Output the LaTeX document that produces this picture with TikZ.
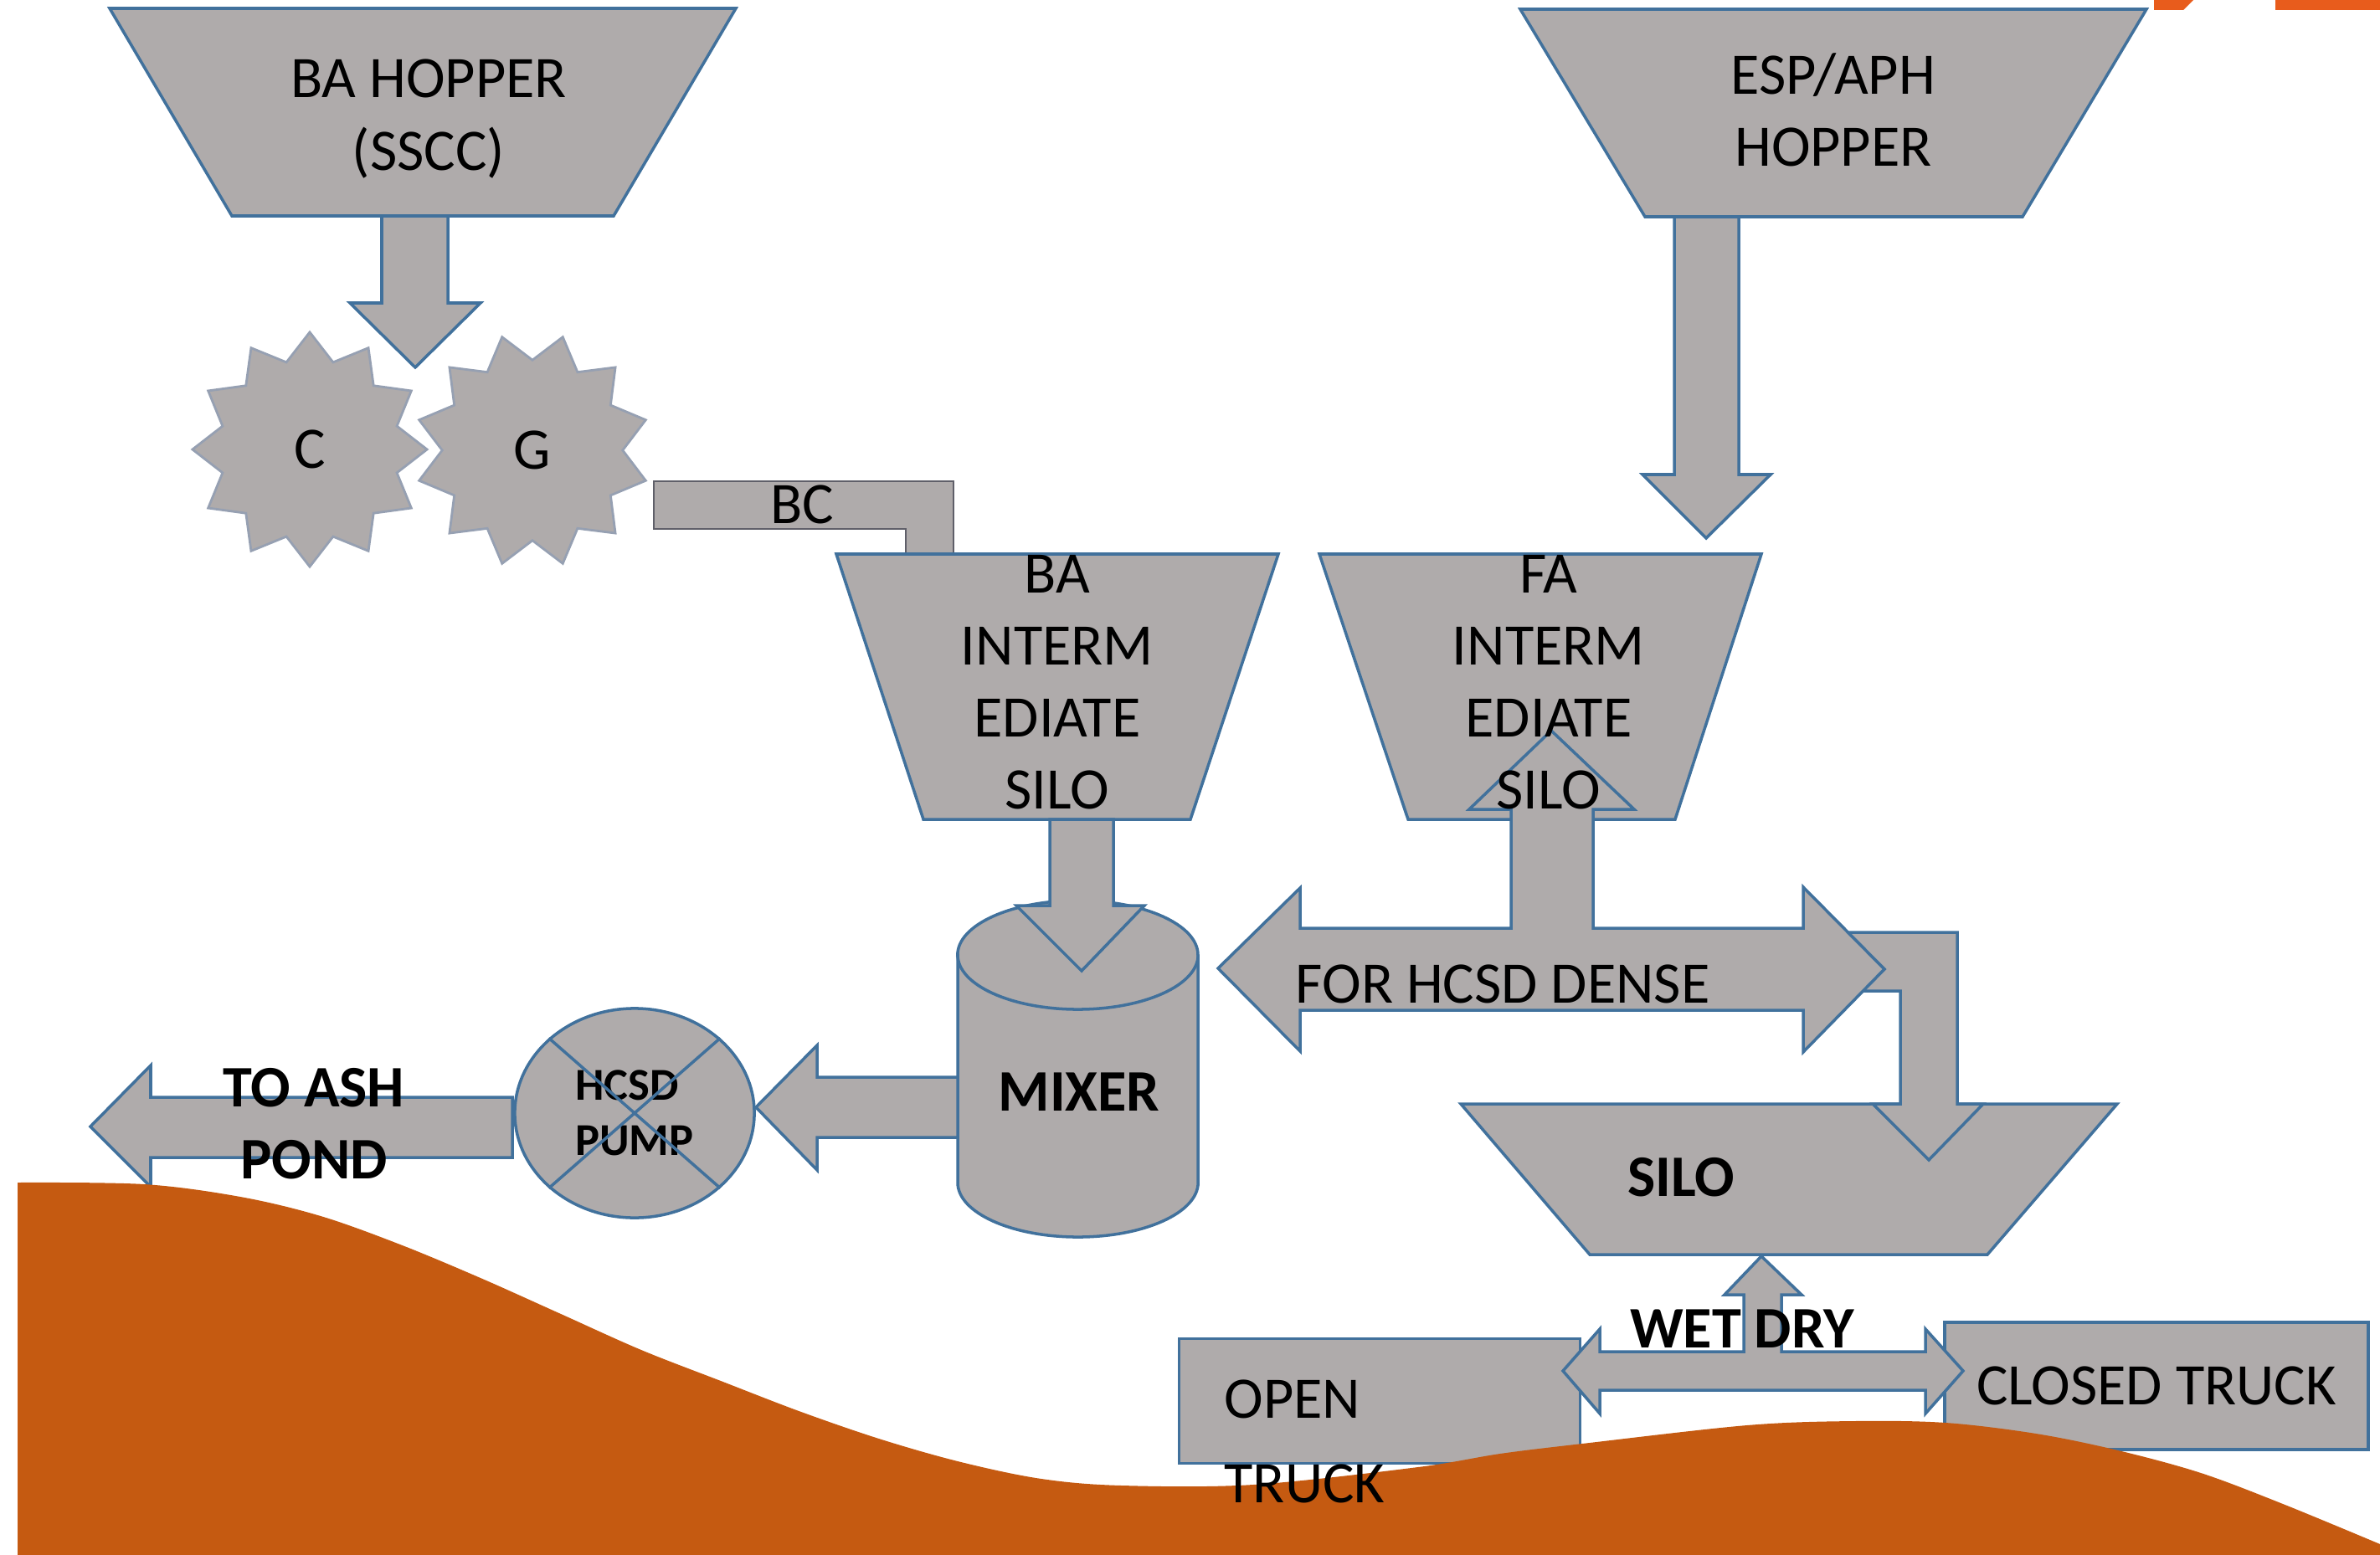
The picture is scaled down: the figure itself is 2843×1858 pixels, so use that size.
\documentclass[tikz,border=0pt]{standalone}
\usepackage{fontspec}
\setmainfont{Carlito}
\usetikzlibrary{shapes.geometric,calc}

\definecolor{unitfill}{RGB}{175,171,171}
\definecolor{unitline}{RGB}{65,113,156}
\definecolor{hillorange}{RGB}{197,90,17}
\definecolor{striporange}{RGB}{232,92,28}
\definecolor{gearline}{RGB}{150,160,178}
\definecolor{beltline}{RGB}{95,95,105}

\tikzset{
  unit/.style={draw=unitline, fill=unitfill, line width=1pt},
  gear/.style={star, star points=12, star point ratio=1.3, draw=gearline, fill=unitfill, line width=0.8pt, minimum size=2.8cm, inner sep=0pt, font=\fontsize{20}{24}\selectfont}
}

\begin{document}
\begin{tikzpicture}[
    x=0.01cm, y=-0.01cm, % one unit = one pixel of the sketch
    txt/.style={font=\fontsize{20}{24.5}\selectfont, align=center, inner sep=0pt},
    boldtxt/.style={font=\fontsize{20}{24.5}\selectfont\bfseries, align=center, inner sep=0pt}
]
    \useasboundingbox (0,0) rectangle (2843,1858);

    % Hoppers
    \filldraw[unit] (131,10) -- (879,10) -- (733,258) -- (277,258) -- cycle;
    \filldraw[unit] (1816,11) -- (2564,11) -- (2416,259) -- (1965,259) -- cycle;

    % Arrow hopper -> crusher
    \filldraw[unit] (456,258) -- (535,258) -- (535,362) -- (574,362) -- (496,439) -- (418,362) -- (456,362) -- cycle;

    % Crusher and grinder
    \node[gear] (crusher) at (370,537) {C};
    \node[gear, shape border rotate=15] (grinder) at (636,538) {G};

    % Belt conveyor
    \filldraw[draw=beltline, fill=unitfill, line width=0.8pt] (781,575) -- (1139,575) -- (1139,662) -- (1082,662) -- (1082,632) -- (781,632) -- cycle;

    % Intermediate silos
    \filldraw[unit] (999,662) -- (1527,662) -- (1422,979) -- (1103,979) -- cycle;
    \filldraw[unit] (1576,662) -- (2104,662) -- (2001,979) -- (1682,979) -- cycle;

    % Arrow ESP/APH -> FA silo
    \filldraw[unit] (2000,259) -- (2077,259) -- (2077,567) -- (2115,567) -- (2038,643) -- (1962,567) -- (2000,567) -- cycle;

    % Mixer
    \filldraw[unit] (1144,1141) -- (1144,1413) arc[start angle=180, end angle=360, x radius=1.435cm, y radius=0.65cm] -- (1431,1141) arc[start angle=0, end angle=180, x radius=1.435cm, y radius=0.65cm] -- cycle;
    \draw[unitline, line width=1pt] (1144,1141) arc[start angle=180, end angle=360, x radius=1.435cm, y radius=0.65cm];
    \coordinate (mixer) at (1289,1305);

    % Arrow BA silo -> mixer
    \filldraw[unit] (1254,979) -- (1330,979) -- (1330,1082) -- (1367,1082) -- (1292,1160) -- (1214,1082) -- (1254,1082) -- cycle;

    % Silo and its feed
    \filldraw[unit] (1745,1319) -- (2529,1319) -- (2374,1499) -- (1899,1499) -- cycle;
    \filldraw[unit] (2200,1114) -- (2338,1114) -- (2338,1319) -- (2369,1319) -- (2304,1386) -- (2237,1319) -- (2270,1319) -- (2270,1184) -- (2200,1184) -- cycle;
    \filldraw[unit] (1455,1157) -- (1553,1061) -- (1553,1109) -- (1805,1109) -- (1805,967) -- (1755,967) -- (1853,873) -- (1952,967) -- (1903,967) -- (1903,1109) -- (2154,1109) -- (2154,1060) -- (2251,1158) -- (2154,1257) -- (2154,1207) -- (1553,1207) -- (1553,1256) -- cycle;

    % Pump
    \node[unit, ellipse, minimum width=2.86cm, minimum height=2.5cm, inner sep=0pt, align=left, font=\fontsize{15.5}{18.8}\selectfont\bfseries] (pump) at (758,1330) {HCSD\\PUMP};
    \draw[unitline, line width=1pt] (pump.north west) -- (pump.south east) (pump.north east) -- (pump.south west);

    % Arrows mixer -> pump -> ash pond
    \filldraw[unit] (1144,1287) -- (976,1287) -- (976,1249) -- (903,1323) -- (976,1398) -- (976,1359) -- (1144,1359) -- cycle;
    \filldraw[unit] (612,1311) -- (180,1311) -- (180,1273) -- (108,1346) -- (180,1418) -- (180,1383) -- (612,1383) -- cycle;

    % Trucks
    \node[unit, minimum width=4.79cm, minimum height=1.49cm] (opentruck) at (1648,1674) {};
    \node[unit, txt, minimum width=5.06cm, minimum height=1.52cm] (closedtruck) at (2576,1656) {CLOSED TRUCK};
    \filldraw[unit] (1867,1638) -- (1911,1588) -- (1911,1615) -- (2083,1615) -- (2083,1547) -- (2060,1547) -- (2104,1501) -- (2152,1547) -- (2128,1547) -- (2128,1615) -- (2300,1615) -- (2300,1588) -- (2345,1638) -- (2300,1689) -- (2300,1661) -- (1911,1661) -- (1911,1689) -- cycle;

    % Ground
    \fill[hillorange] (21,1858) -- plot[smooth, tension=0.55] coordinates {(21,1413) (172,1415) (287,1430) (383,1453) (478,1487) (574,1527) (670,1570) (766,1613) (861,1650) (957,1687) (1053,1720) (1148,1747) (1244,1767) (1340,1775) (1497,1774) (1694,1753) (1792,1737) (1890,1725) (2087,1703) (2215,1698) (2324,1700) (2432,1713) (2530,1733) (2629,1760) (2727,1797) (2843,1845)} -- (2843,1858) -- cycle;
    \fill[striporange] (2573,0) -- (2620,0) -- (2608,12) -- (2573,12) -- cycle;
    \fill[striporange] (2718,0) rectangle (2843,12);

    % Labels
    \node[txt] (bahopper) at (512,142) {BA HOPPER\\(SSCC)};
    \node[txt] (esphopper) at (2190,131) {ESP/APH\\HOPPER};
    \node[txt] (belt) at (958,603) {BC};
    \node[txt] (basilo) at (1263,815) {BA\\INTERM\\EDIATE\\SILO};
    \node[txt] (fasilo) at (1850,815) {FA\\INTERM\\EDIATE\\SILO};
    \node[txt, anchor=west] (dense) at (1547,1176) {FOR HCSD DENSE};
    \node[boldtxt] at (mixer) {MIXER};
    \node[boldtxt] (silo) at (2008,1407) {SILO};
    \node[boldtxt] (ashpond) at (375,1343) {TO ASH\\POND};
    \node[boldtxt] (wetdry) at (2081,1588) {WET DRY};
    \node[txt, align=left, anchor=west, font=\fontsize{20}{28.7}\selectfont] (opentext) at (1462,1722) {OPEN\\TRUCK};

\end{tikzpicture}
\end{document}
